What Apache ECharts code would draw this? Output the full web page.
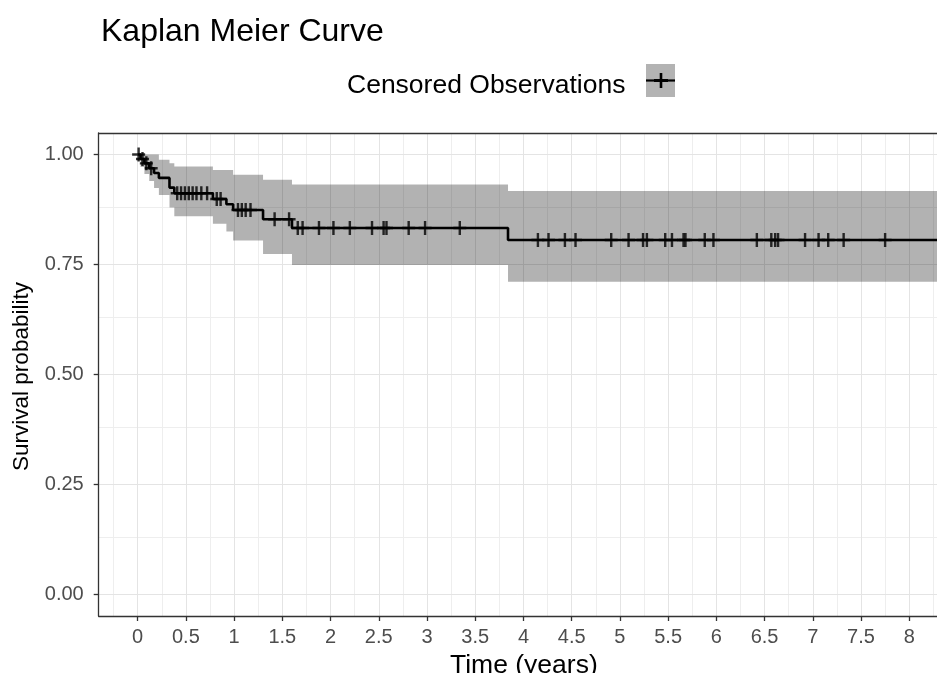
<!DOCTYPE html>
<html>
<head>
<meta charset="utf-8">
<script src="https://cdn.jsdelivr.net/npm/echarts@6/dist/echarts.min.js"></script>
<style>
html,body{margin:0;padding:0;background:#fff;}
#chart{width:937px;height:673px;}
</style>
</head>
<body>
<div id="chart"></div>
<script>
// ---- Data ----
var eventTimes = [0, 0.03, 0.07, 0.12, 0.17, 0.22, 0.33, 0.38, 0.78, 0.92, 0.99, 1.30, 1.60, 3.84, 8.30];
var survival   = [1, 0.990, 0.980, 0.969, 0.958, 0.947, 0.925, 0.912, 0.899, 0.887, 0.874, 0.853, 0.833, 0.806, 0.806];
var upperCI    = [1, 1, 1, 1, 1, 0.988, 0.980, 0.973, 0.965, 0.965, 0.954, 0.943, 0.932, 0.917, 0.917];
var lowerCI    = [1, 0.972, 0.956, 0.940, 0.924, 0.908, 0.880, 0.860, 0.843, 0.825, 0.805, 0.774, 0.749, 0.711, 0.711];
var censorTimes = [0.01, 0.05, 0.09, 0.14,
  0.41, 0.45, 0.49, 0.53, 0.57, 0.61, 0.66, 0.72, 0.82, 0.86,
  1.04, 1.08, 1.12, 1.17, 1.42, 1.57,
  1.66, 1.71, 1.88, 2.03, 2.20, 2.43, 2.55, 2.58, 2.81, 2.98, 3.34,
  4.15, 4.26, 4.43, 4.54, 4.91, 5.09, 5.24, 5.28, 5.47, 5.54, 5.66, 5.68, 5.88, 5.97,
  6.42, 6.57, 6.61, 6.64, 6.92, 7.06, 7.16, 7.32, 7.75];
var xTicks = [0, 0.5, 1, 1.5, 2, 2.5, 3, 3.5, 4, 4.5, 5, 5.5, 6, 6.5, 7, 7.5, 8];
var xMinorTicks = [-0.25, 0.25, 0.75, 1.25, 1.75, 2.25, 2.75, 3.25, 3.75, 4.25, 4.75, 5.25, 5.75, 6.25, 6.75, 7.25, 7.75, 8.25];
var yTicks = [0, 0.25, 0.5, 0.75, 1];
var yMinorTicks = [0.125, 0.375, 0.625, 0.875];

// ---- Build series data ----
function survAt(t) {
  var s = survival[0];
  for (var i = 0; i < eventTimes.length; i++) {
    if (eventTimes[i] <= t) s = survival[i];
  }
  return s;
}
var kmData = eventTimes.map(function (t, i) { return [t, survival[i]]; });
var censorData = censorTimes.map(function (t) { return [t, survAt(t)]; });

var gridLines = [];
xMinorTicks.forEach(function (v) { gridLines.push({ xAxis: v, lineStyle: { color: '#EEEEEE', width: 1 } }); });
yMinorTicks.forEach(function (v) { gridLines.push({ yAxis: v, lineStyle: { color: '#EEEEEE', width: 1 } }); });
xTicks.forEach(function (v) { gridLines.push({ xAxis: v, lineStyle: { color: '#E4E4E4', width: 1 } }); });
yTicks.forEach(function (v) { gridLines.push({ yAxis: v, lineStyle: { color: '#E4E4E4', width: 1 } }); });

var FONT = 'Liberation Sans, Arial, sans-serif';
var chart = echarts.init(document.getElementById('chart'), null, { renderer: 'canvas' });

var XMIN = -0.404, XMAX = 8.288, YMIN = -0.0484, YMAX = 1.049;

var option = {
  animation: false,
  backgroundColor: '#ffffff',
  title: {
    text: 'Kaplan Meier Curve',
    left: 96, top: 11,
    textStyle: { fontFamily: FONT, fontSize: 32, fontWeight: 'normal', color: '#000' }
  },
  grid: {
    left: 98.7, top: 133, bottom: 57, right: 0,
    show: false, containLabel: false, outerBoundsMode: 'none'
  },
  xAxis: [{
    type: 'value', position: 'bottom', z: 10,
    min: XMIN, max: XMAX,
    name: 'Time (years)', nameLocation: 'middle', nameGap: 31,
    nameTextStyle: { fontFamily: FONT, fontSize: 26.5, color: '#000', padding: [0, 0, 0, 12] },
    axisLine: { show: true, onZero: false, lineStyle: { color: '#333', width: 1.3 } },
    axisTick: { show: true, customValues: xTicks, length: 5, lineStyle: { color: '#333', width: 1.3 } },
    axisLabel: { show: true, customValues: xTicks, margin: 11, fontFamily: FONT, fontSize: 20, color: '#4D4D4D',
      formatter: function (v) { return String(v); } },
    splitLine: { show: false }
  }, {
    type: 'value', position: 'top', z: 10,
    min: XMIN, max: XMAX,
    axisLine: { show: true, onZero: false, lineStyle: { color: '#333', width: 1.3 } },
    axisTick: { show: false }, axisLabel: { show: false }, splitLine: { show: false }
  }],
  yAxis: {
    type: 'value', z: 10,
    min: YMIN, max: YMAX,
    name: 'Survival probability', nameLocation: 'middle', nameGap: 65, nameRotate: 90,
    nameTextStyle: { fontFamily: FONT, fontSize: 22.5, color: '#000', padding: [0, 4, 0, 0] },
    axisLine: { show: true, onZero: false, lineStyle: { color: '#333', width: 1.3 } },
    axisTick: { show: true, customValues: yTicks, length: 5, lineStyle: { color: '#333', width: 1.3 } },
    axisLabel: { show: true, customValues: yTicks, margin: 15, fontFamily: FONT, fontSize: 20, color: '#4D4D4D',
      formatter: function (v) { return v.toFixed(2); } },
    splitLine: { show: false }
  },
  series: [
    {
      name: 'grid', type: 'line', data: [], silent: true,
      markLine: { silent: true, z: 1, symbol: ['none', 'none'], label: { show: false }, animation: false,
        lineStyle: { type: 'solid' }, data: gridLines }
    },
    {
      name: 'band', type: 'custom', z: 6, silent: true, clip: true,
      data: [[0, 1]],
      renderItem: function (params, api) {
        var n = eventTimes.length, pts = [], i, t0, t1;
        for (i = 0; i < n; i++) {
          t0 = eventTimes[i]; t1 = i + 1 < n ? eventTimes[i + 1] : eventTimes[i];
          pts.push(api.coord([t0, upperCI[i]]));
          pts.push(api.coord([t1, upperCI[i]]));
        }
        for (i = n - 1; i >= 0; i--) {
          t0 = eventTimes[i]; t1 = i + 1 < n ? eventTimes[i + 1] : eventTimes[i];
          pts.push(api.coord([t1, lowerCI[i]]));
          pts.push(api.coord([t0, lowerCI[i]]));
        }
        return { type: 'polygon', shape: { points: pts }, style: { fill: 'rgba(0,0,0,0.30)' } };
      }
    },
    {
      name: 'KM', type: 'line', data: kmData, step: 'end', z: 7,
      symbol: 'none', lineStyle: { color: '#000', width: 2.6 }, silent: true
    },
    {
      name: 'Censored Observations', type: 'scatter', data: censorData, z: 8,
      symbol: 'path://M5.7,0H8.3V6.2H14V8.8H8.3V15H5.7V8.8H0V6.2H5.7Z',
      symbolSize: [13, 14], itemStyle: { color: '#000' }, silent: true
    }
  ],
  graphic: [
    { type: 'text', left: 347, top: 72, style: { text: 'Censored Observations', fontFamily: FONT, fontSize: 26.5, fill: '#000' } },
    { type: 'rect', shape: { x: 646, y: 64, width: 29, height: 33 }, style: { fill: '#B3B3B3' } },
    { type: 'line', shape: { x1: 646, y1: 80.5, x2: 675, y2: 80.5 }, style: { stroke: '#000', lineWidth: 2.2 } },
    { type: 'line', shape: { x1: 661, y1: 73, x2: 661, y2: 88 }, style: { stroke: '#000', lineWidth: 2.6 } },
    { type: 'line', shape: { x1: 654, y1: 80.5, x2: 668, y2: 80.5 }, style: { stroke: '#000', lineWidth: 3 } }
  ]
};
chart.setOption(option);
</script>
</body>
</html>
